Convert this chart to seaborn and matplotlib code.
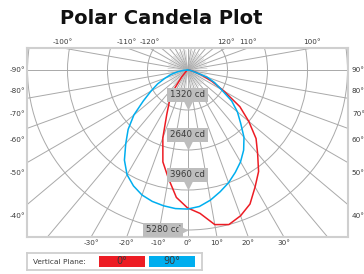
import numpy as np
import pandas as pd
import seaborn as sns
import matplotlib.pyplot as plt
from matplotlib.patches import Circle, Rectangle

# vertical angle from nadir (deg), negative = left half of the plot
gamma = list(range(-90, 95, 5))

# candela
red_cd = [0, 0, 0, 0, 0, 0, 0, 0, 0, 70, 300, 730, 1190, 1620, 2380, 3140, 3630, 4220,
          4550, 4750, 5180, 5280, 5120, 4880, 4460, 4090, 3600, 3200, 2640, 2110, 1390,
          890, 500, 260, 130, 60, 0]
blue_cd = [0, 130, 330, 560, 790, 1090, 1390, 1780, 2310, 2770, 3170, 3630, 3990, 4220,
           4390, 4490, 4550, 4590, 4590, 4520, 4360, 4160, 3960, 3730, 3500, 3230, 2900,
           2480, 2150, 1780, 1290, 990, 690, 230, 130, 70, 0]

planes = ['0°', '90°']
ring_values = [1320, 2640, 3960, 5280]
top_angles = [-100, -110, -120, 120, 110, 100]
bottom_angles = [-30, -20, -10, 0, 10, 20, 30]
side_angles = [90, 80, 70, 60, 50, 40]

RED = '#ed1c24'
BLUE = '#00aeef'
GRID = '#a9a9a9'
TXT = '#3a3a3a'

rows = []
for name, vals in zip(planes, [red_cd, blue_cd]):
    for g, v in zip(gamma, vals):
        a = np.radians(g)
        rows.append({'plane': name, 'x': v * np.sin(a), 'y': -v * np.cos(a)})
df = pd.DataFrame(rows)

sns.set_style('white')
plt.rcParams['font.family'] = ['DejaVu Sans']

fig = plt.figure(figsize=(3.64, 2.74), dpi=100)
ax = fig.add_axes([27 / 364, 37 / 274, 321 / 364, 189 / 274])
XR, YT, YB = 5297, 726, -5511
ax.set_xlim(-XR, XR)
ax.set_ylim(YB, YT)
ax.set_xticks([])
ax.set_yticks([])
for s in ax.spines.values():
    s.set_color('#cfcfcf')
    s.set_linewidth(1.5)

# grid
for r in ring_values:
    ax.add_patch(Circle((0, 0), r, fill=False, ec=GRID, lw=0.7, zorder=1))
for a in np.arange(0, 360, 5):
    t = np.radians(a)
    if a % 10 == 0:
        L, lw, c = 9000, 0.7, GRID
    else:
        L, lw, c = 650, 0.45, '#c4c4c4'
    ax.plot([0, L * np.sin(t)], [0, -L * np.cos(t)], color=c, lw=lw, zorder=1)

sns.lineplot(data=df, x='x', y='y', hue='plane', palette={'0°': RED, '90°': BLUE},
             sort=False, estimator=None, legend=False, lw=1.1, ax=ax, zorder=3)
ax.set_xlabel('')
ax.set_ylabel('')

# ring labels
for r in ring_values[:3]:
    ax.text(0, -r + 500, f'{r} cd', ha='center', va='center', fontsize=6.2, color=TXT,
            bbox=dict(boxstyle='square,pad=0.3', fc='#bdbdbd', ec='none'), zorder=4)
    ax.plot([0], [-r + 150], marker='v', ms=6.5, color='#bdbdbd', mec='none', zorder=4)
ax.text(-800, -5280, f'{ring_values[3]} cd', ha='center', va='center', fontsize=6.2,
        color=TXT, bbox=dict(boxstyle='square,pad=0.3', fc='#bdbdbd', ec='none'), zorder=4)
ax.plot([-140], [-5280], marker='>', ms=6.5, color='#bdbdbd', mec='none', zorder=4)

# angle labels
for g in top_angles:
    t = np.radians(abs(g) - 90)
    x = np.sign(g) * YT / np.tan(t)
    ax.text(x, YT + 90, f'{g}°', ha='center', va='bottom', fontsize=5.2, color=TXT,
            clip_on=False)
for g in bottom_angles:
    x = -YB * np.tan(np.radians(g))
    ax.text(x, YB - 110, f'{g}°', ha='center', va='top', fontsize=5.2, color=TXT,
            clip_on=False)
side_y = [70, 91, 114, 140, 173, 216]
for g, yp in zip(side_angles, side_y):
    y = -(yp - 70) * 33
    ax.text(-XR - 70, y, f'-{g}°', ha='right', va='center', fontsize=5.2, color=TXT,
            clip_on=False)
    ax.text(XR + 130, y, f'{g}°', ha='left', va='center', fontsize=5.2, color=TXT,
            clip_on=False)

fig.text(161 / 364, 1 - 18 / 274, 'Polar Candela Plot', ha='center', va='center',
         fontsize=14, fontweight='bold', color='#111111')

# legend strip
lg = fig.add_axes([27 / 364, 4 / 274, 175 / 364, 17 / 274])
lg.set_xlim(0, 175)
lg.set_ylim(0, 17)
lg.set_xticks([])
lg.set_yticks([])
for s in lg.spines.values():
    s.set_color('#cfcfcf')
    s.set_linewidth(1.3)
lg.text(6, 8.5, 'Vertical Plane:', ha='left', va='center', fontsize=5.3, color=TXT)
for x0, col, name in [(72, RED, planes[0]), (122, BLUE, planes[1])]:
    lg.add_patch(Rectangle((x0, 3), 46, 11, fc=col, ec='none'))
    lg.text(x0 + 23, 8.5, name, ha='center', va='center', fontsize=7, color=TXT)

fig.savefig('out.png', dpi=100)
